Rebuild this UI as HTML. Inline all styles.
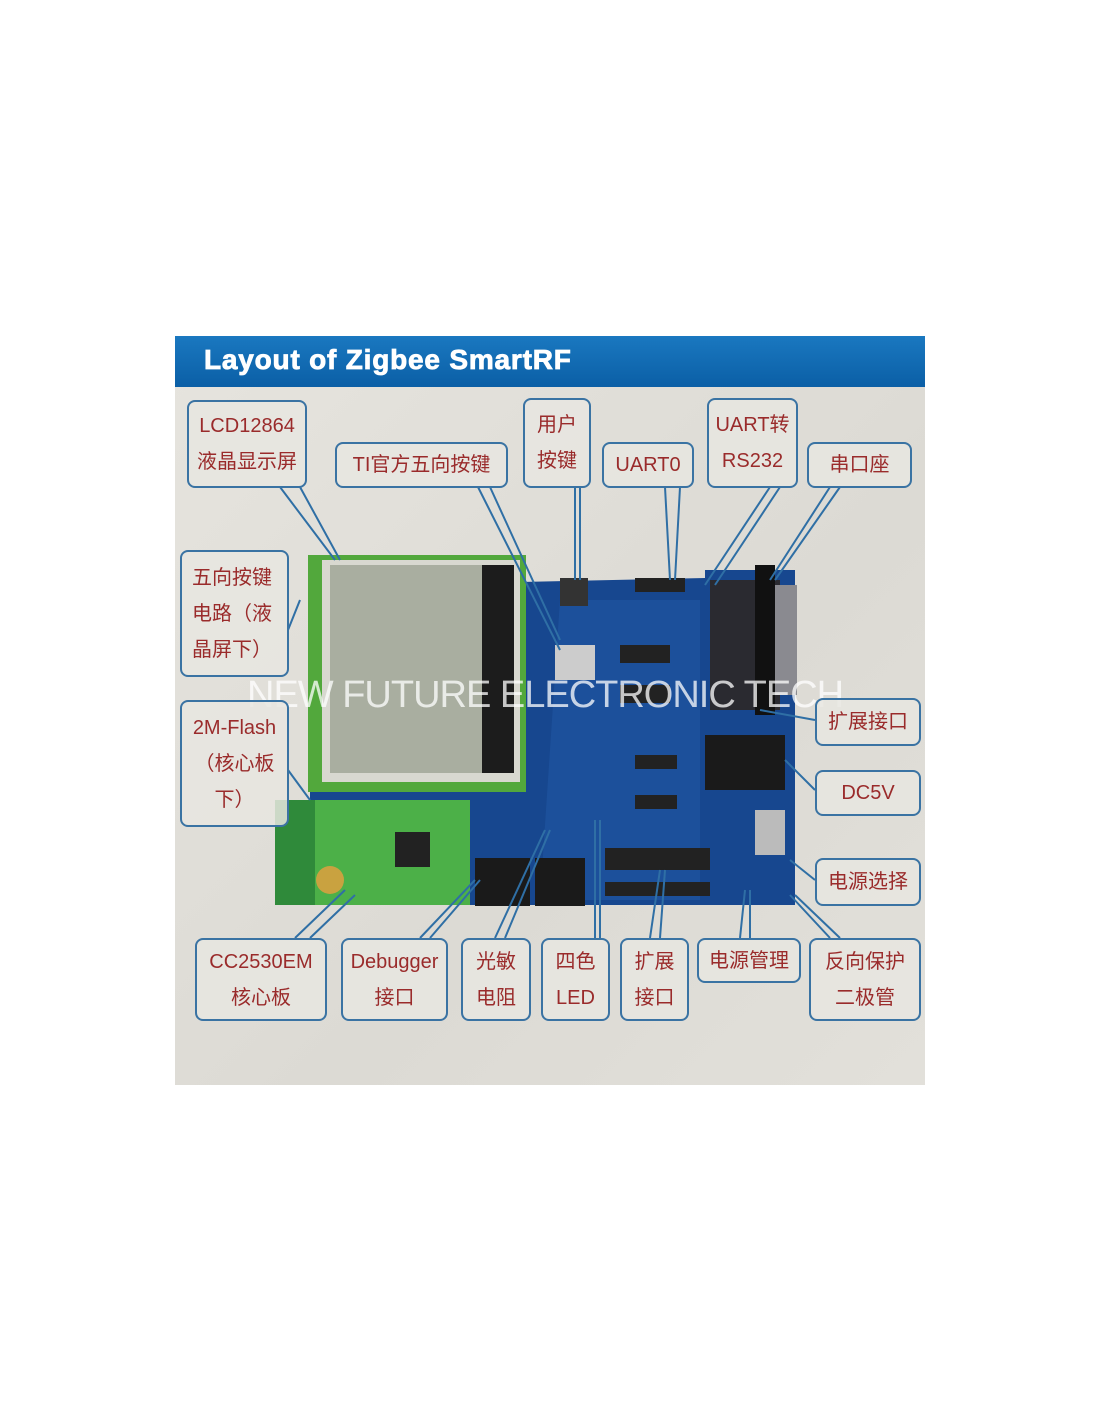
<!DOCTYPE html>
<html><head><meta charset="utf-8">
<style>
body{margin:0;width:1100px;height:1422px;background:#fff;position:relative;overflow:hidden;font-family:"Liberation Sans","Noto Sans CJK SC",sans-serif}
#pic{position:absolute;left:175px;top:336px;width:750px;height:749px;background:linear-gradient(135deg,#e6e4de,#dcdad4 60%,#e2e0da)}
#hdr{position:absolute;left:175px;top:336px;width:750px;height:51px;background:linear-gradient(#1a78c0,#0b5fa6);}
#hdr span{position:absolute;left:29px;top:8px;color:#fff;font-weight:bold;font-size:28px;letter-spacing:0.8px;-webkit-text-stroke:0.8px #fff}
.b{position:absolute;border:2px solid #3a73a3;border-radius:8px;background:rgba(232,230,224,0.85);color:#9a2b2b;font-size:20px;text-align:center;box-sizing:border-box;line-height:36px;display:flex;flex-direction:column;justify-content:center}
svg{position:absolute;left:0;top:0}
#wm{position:absolute;left:247px;top:674px;font-size:38px;color:rgba(255,255,255,0.75);white-space:nowrap;letter-spacing:-1px}
</style></head><body>
<div id="pic"></div>
<div id="hdr"><span>Layout of Zigbee SmartRF</span></div>
<svg width="1100" height="1422">
 <polygon points="520,582 705,578 705,570 795,570 795,905 310,905 310,790 520,790" fill="#17478f"/>
 <polygon points="560,600 700,600 700,900 540,900" fill="#2159a8" opacity="0.5"/>
 <rect x="710" y="580" width="70" height="130" fill="#2a2a30"/>
 <rect x="755" y="565" width="20" height="150" fill="#111"/>
 <rect x="775" y="585" width="22" height="110" fill="#8a8a90"/>
 <rect x="705" y="735" width="80" height="55" fill="#1a1a1a"/>
 <rect x="308" y="555" width="218" height="237" fill="#52a83c"/>
 <rect x="322" y="560" width="198" height="222" fill="#d8d8d0"/>
 <rect x="330" y="565" width="160" height="208" fill="#a9aea0"/>
 <rect x="482" y="565" width="32" height="208" fill="#1c1c1c"/>
 <rect x="275" y="800" width="195" height="105" fill="#2f8a3a"/>
 <rect x="315" y="800" width="155" height="105" fill="#4cb048"/>
 <rect x="395" y="832" width="35" height="35" fill="#222"/>
 <circle cx="330" cy="880" r="14" fill="#c9a240"/>
 <rect x="475" y="858" width="55" height="48" fill="#1a1a1a"/>
 <rect x="535" y="858" width="50" height="48" fill="#1a1a1a"/>
 <rect x="605" y="848" width="105" height="22" fill="#222"/>
 <rect x="605" y="882" width="105" height="14" fill="#222"/>
 <rect x="620" y="645" width="50" height="18" fill="#222"/>
 <rect x="620" y="685" width="50" height="18" fill="#222"/>
 <rect x="635" y="755" width="42" height="14" fill="#222"/>
 <rect x="635" y="795" width="42" height="14" fill="#222"/>
 <rect x="635" y="578" width="50" height="14" fill="#222"/>
 <rect x="560" y="578" width="28" height="28" fill="#333"/>
 <rect x="555" y="645" width="40" height="35" fill="#ccc"/>
 <rect x="755" y="810" width="30" height="45" fill="#bbb"/>
 <g stroke="#2f6fa5" stroke-width="2" fill="none">
  <path d="M280,487 L335,560 M300,487 L340,560"/>
  <path d="M478,487 L560,650 M490,487 L560,640"/>
  <path d="M575,487 L575,580 M580,487 L580,580"/>
  <path d="M665,487 L670,580 M680,487 L675,580"/>
  <path d="M770,487 L705,585 M780,487 L715,585"/>
  <path d="M830,487 L770,580 M840,487 L775,580"/>
  <path d="M288,630 L300,600"/>
  <path d="M288,770 L310,800"/>
  <path d="M815,720 L760,710"/>
  <path d="M815,790 L785,760"/>
  <path d="M815,880 L790,860"/>
  <path d="M295,938 L345,890 M310,938 L355,895"/>
  <path d="M420,938 L475,880 M430,938 L480,880"/>
  <path d="M495,938 L545,830 M505,938 L550,830"/>
  <path d="M595,938 L595,820 M600,938 L600,820"/>
  <path d="M650,938 L660,870 M660,938 L665,870"/>
  <path d="M740,938 L745,890 M750,938 L750,890"/>
  <path d="M830,938 L790,895 M840,938 L795,895"/>
 </g>
</svg>
<div id="wm">NEW FUTURE ELECTRONIC TECH</div>
<div class="b" style="left:187px;top:400px;width:120px;height:88px">LCD12864<br>液晶显示屏</div>
<div class="b" style="left:335px;top:442px;width:173px;height:46px">TI官方五向按键</div>
<div class="b" style="left:523px;top:398px;width:68px;height:90px">用户<br>按键</div>
<div class="b" style="left:602px;top:442px;width:92px;height:46px">UART0</div>
<div class="b" style="left:707px;top:398px;width:91px;height:90px">UART转<br>RS232</div>
<div class="b" style="left:807px;top:442px;width:105px;height:46px">串口座</div>
<div class="b" style="left:180px;top:550px;width:109px;height:127px;text-align:left;padding-left:10px">五向按键<br>电路（液<br>晶屏下）</div>
<div class="b" style="left:180px;top:700px;width:109px;height:127px">2M-Flash<br>（核心板<br>下）</div>
<div class="b" style="left:815px;top:698px;width:106px;height:48px">扩展接口</div>
<div class="b" style="left:815px;top:770px;width:106px;height:46px">DC5V</div>
<div class="b" style="left:815px;top:858px;width:106px;height:48px">电源选择</div>
<div class="b" style="left:195px;top:938px;width:132px;height:83px">CC2530EM<br>核心板</div>
<div class="b" style="left:341px;top:938px;width:107px;height:83px">Debugger<br>接口</div>
<div class="b" style="left:461px;top:938px;width:70px;height:83px">光敏<br>电阻</div>
<div class="b" style="left:541px;top:938px;width:69px;height:83px">四色<br>LED</div>
<div class="b" style="left:620px;top:938px;width:69px;height:83px">扩展<br>接口</div>
<div class="b" style="left:697px;top:938px;width:104px;height:45px">电源管理</div>
<div class="b" style="left:809px;top:938px;width:112px;height:83px">反向保护<br>二极管</div>
</body></html>
